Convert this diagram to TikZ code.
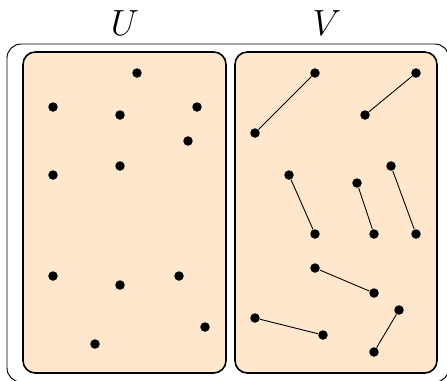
\documentclass[tikz,border=0pt]{standalone}
\usepackage{tikz}
\definecolor{melocoton}{HTML}{FFE7CD}

\begin{document}
\begin{tikzpicture}[
  x=0.02cm, y=-0.02cm,
  marco/.style={draw=black, line width=0.55pt, rounded corners=8pt},
  caja/.style={draw=black, fill=melocoton, line width=0.9pt, rounded corners=7pt},
  punto/.style={circle, fill=black, inner sep=0pt, minimum size=0.19cm},
  enlace/.style={black, line width=0.5pt},
  etiqueta/.style={font=\fontsize{20}{23}\selectfont}
]
  \useasboundingbox (0,0) rectangle (447,380);
  % marco exterior y las dos cajas
  \draw[marco] (7,44) rectangle (449,382);
  \draw[caja] (23,52) rectangle (226,373);
  \draw[caja] (235,52) rectangle (437,373);
  \node[etiqueta] (lu) at (125,23) {$U$};
  \node[etiqueta] (lv) at (327,23) {$V$};
  % puntos de U
  \foreach \n/\p in {1/{137,73},2/{53,107},3/{120,115},4/{197,107},
                     5/{188,141},6/{53,175},7/{120,166},8/{53,276},
                     9/{120,285},10/{179,276},11/{205,327},12/{95,344}}
    \node[punto] (u\n) at (\p) {};
  % puntos de V
  \foreach \n/\p in {1/{315,73},2/{255,133},3/{416,73},4/{365,115},
                     5/{289,175},6/{315,234},7/{357,183},8/{374,234},
                     9/{391,166},10/{416,234},11/{315,268},12/{374,293},
                     13/{255,318},14/{323,335},15/{399,310},16/{374,352}}
    \node[punto] (v\n) at (\p) {};
  \foreach \a/\b in {v1/v2,v3/v4,v5/v6,v7/v8,v9/v10,v11/v12,
                     v13/v14,v15/v16}
    \draw[enlace] (\a)--(\b);
\end{tikzpicture}
\end{document}
